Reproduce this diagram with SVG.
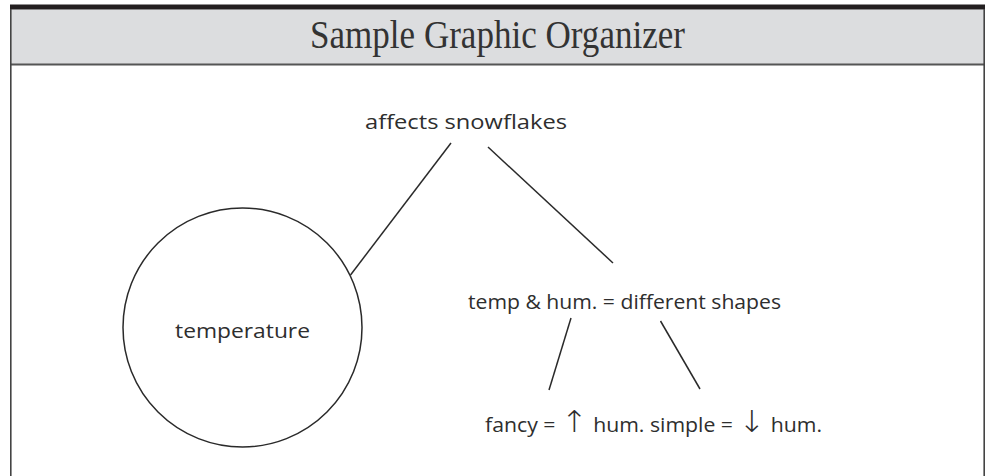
<svg xmlns="http://www.w3.org/2000/svg" width="995" height="476" viewBox="0 0 995 476">
<style>
.hand{font-family:"Open Sans","DejaVu Sans",sans-serif;font-size:20px;fill:#2e2e2e}
.ln{stroke:#2a2a2a;stroke-width:1.5;fill:none}
.arr{font-family:"DejaVu Sans",sans-serif;font-size:30px;font-weight:300}
</style>
<rect width="995" height="476" fill="#ffffff"/>
<g id="frame">
<rect x="10.5" y="9.5" width="974" height="55" fill="#dcdddf"/>
<rect x="10" y="4.5" width="975" height="5" fill="#231f20"/>
<line x1="10" y1="64.5" x2="985" y2="64.5" stroke="#555" stroke-width="2"/>
<line x1="10.8" y1="9" x2="10.8" y2="476" stroke="#444" stroke-width="1.6"/>
<line x1="984.2" y1="9" x2="984.2" y2="476" stroke="#444" stroke-width="1.6"/>
<text x="497.5" y="48" text-anchor="middle" font-family="Liberation Serif, serif" font-size="39" fill="#333" textLength="375" lengthAdjust="spacingAndGlyphs">Sample Graphic Organizer</text>
</g>
<g id="connectors">
<line class="ln" x1="451" y1="143" x2="350.5" y2="275"/>
<line class="ln" x1="488" y1="147" x2="613" y2="263"/>
<line class="ln" x1="571" y1="318" x2="549" y2="390"/>
<line class="ln" x1="660.5" y1="321" x2="700" y2="389"/>
</g>
<g id="node-affects">
<text class="hand" x="466" y="129" text-anchor="middle" textLength="202" lengthAdjust="spacingAndGlyphs">affects snowflakes</text>
</g>
<g id="node-temperature">
<circle cx="242.5" cy="327.5" r="119.5" class="ln" stroke-width="1.3"/>
<text class="hand" x="242.5" y="338" text-anchor="middle" textLength="135" lengthAdjust="spacingAndGlyphs">temperature</text>
</g>
<g id="node-temphum">
<text class="hand" x="624.5" y="309" text-anchor="middle" textLength="313" lengthAdjust="spacingAndGlyphs">temp &amp; hum. = different shapes</text>
</g>
<g id="node-fancy">
<text class="hand" x="653.5" y="432" text-anchor="middle" textLength="337" lengthAdjust="spacingAndGlyphs">fancy = <tspan class="arr">↑</tspan> hum. simple = <tspan class="arr">↓</tspan> hum.</text>
</g>
</svg>
